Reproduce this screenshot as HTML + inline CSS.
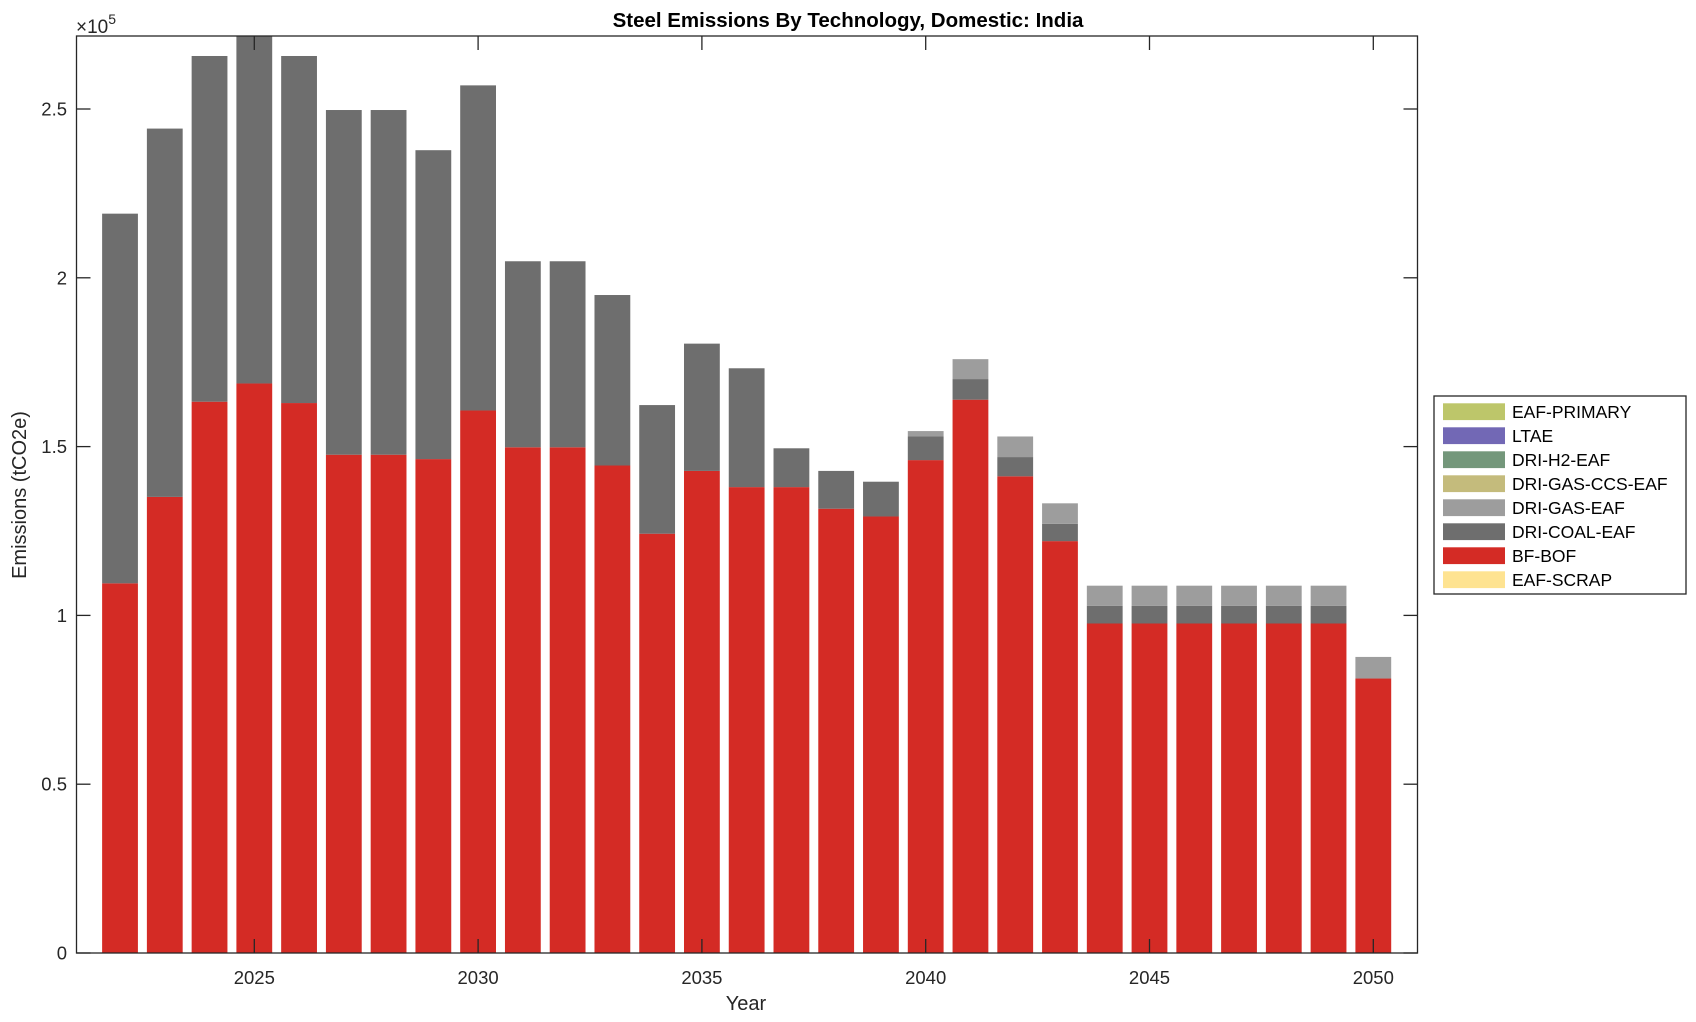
<!DOCTYPE html>
<html><head><meta charset="utf-8"><style>
html,body{margin:0;padding:0;background:#fff;width:1696px;height:1022px;overflow:hidden}
svg{display:block;font-family:"Liberation Sans",Arial,sans-serif}
</style></head><body>
<svg id="s" width="1696" height="1022" xmlns="http://www.w3.org/2000/svg">
<rect width="1696" height="1022" fill="#fff"/>
<g id="bars"></g>
<rect x="76.5" y="36" width="1341" height="917" fill="none" stroke="#262626" stroke-width="1.3"/>
<g id="ticks" stroke="#262626" stroke-width="1.3"></g>
<g id="labels" font-size="18.5" fill="#262626"></g>
<text x="848" y="27" text-anchor="middle" font-size="20.5" font-weight="bold" fill="#000">Steel Emissions By Technology, Domestic: India</text>
<text x="76" y="33" font-size="19" fill="#262626">×10<tspan dy="-9" font-size="14">5</tspan></text>
<text x="746" y="1010" text-anchor="middle" font-size="20" fill="#262626">Year</text>
<text transform="translate(26,495) rotate(-90)" text-anchor="middle" font-size="20" fill="#262626">Emissions (tCO2e)</text>
<rect x="1434" y="396" width="252" height="198" fill="#fff" stroke="#262626" stroke-width="1.3"/>
<g id="leg" font-size="17.5" fill="#000"></g>
</svg>
<script>
var NS="http://www.w3.org/2000/svg";
function el(p,t,a,txt){var e=document.createElementNS(NS,t);for(var k in a)e.setAttribute(k,a[k]);if(txt!=null)e.textContent=txt;p.appendChild(e);return e;}
var X=function(y){return 254.3+(y-2025)*44.76;};
var Y=function(v){return 953-v*337.6;};
var data=[
[2022,1.095,2.19,0],[2023,1.351,2.442,0],[2024,1.633,2.657,0],[2025,1.687,2.716,0],
[2026,1.629,2.657,0],[2027,1.476,2.497,0],[2028,1.476,2.497,0],[2029,1.463,2.378,0],
[2030,1.607,2.570,0],[2031,1.498,2.049,0],[2032,1.498,2.049,0],[2033,1.444,1.949,0],
[2034,1.242,1.623,0],[2035,1.428,1.805,0],[2036,1.380,1.732,0],[2037,1.380,1.495,0],
[2038,1.316,1.428,0],[2039,1.293,1.396,0],[2040,1.460,1.530,1.546],[2041,1.639,1.700,1.759],
[2042,1.412,1.469,1.530],[2043,1.220,1.271,1.332],[2044,0.976,1.028,1.088],[2045,0.976,1.028,1.088],
[2046,0.976,1.028,1.088],[2047,0.976,1.028,1.088],[2048,0.976,1.028,1.088],[2049,0.976,1.028,1.088],
[2050,0.813,0.813,0.877]];
var b=document.getElementById('bars');
data.forEach(function(d){
 var x=X(d[0])-17.9,w=35.8;
 el(b,'rect',{x:x,y:Y(d[1]),width:w,height:Y(0)-Y(d[1]),fill:'#d42b25'});
 if(d[2]>d[1])el(b,'rect',{x:x,y:Y(d[2]),width:w,height:Y(d[1])-Y(d[2]),fill:'#6e6e6e'});
 var top=Math.max(d[1],d[2]);
 if(d[3]>top)el(b,'rect',{x:x,y:Y(d[3]),width:w,height:Y(top)-Y(d[3]),fill:'#9d9d9d'});
});
var t=document.getElementById('ticks'),l=document.getElementById('labels');
[2025,2030,2035,2040,2045,2050].forEach(function(y){var x=X(y);
 el(t,'line',{x1:x,x2:x,y1:953,y2:939});el(t,'line',{x1:x,x2:x,y1:36,y2:50});
 el(l,'text',{x:x,y:984,'text-anchor':'middle'},String(y));});
[0,0.5,1,1.5,2,2.5].forEach(function(v){var y=Y(v);
 el(t,'line',{x1:76.5,x2:90.5,y1:y,y2:y});el(t,'line',{x1:1417.5,x2:1403.5,y1:y,y2:y});
 el(l,'text',{x:67,y:y+6.5,'text-anchor':'end'},String(v));});
var leg=[['EAF-PRIMARY','#bdc66a'],['LTAE','#7268b5'],['DRI-H2-EAF','#74977b'],['DRI-GAS-CCS-EAF','#c4bb7c'],
['DRI-GAS-EAF','#9d9d9d'],['DRI-COAL-EAF','#6e6e6e'],['BF-BOF','#d42b25'],['EAF-SCRAP','#fee391']];
var g=document.getElementById('leg');
leg.forEach(function(it,i){var cy=411.7+i*24;
 el(g,'rect',{x:1443,y:cy-8.4,width:62,height:16.8,fill:it[1]});
 el(g,'text',{x:1512,y:cy+6.2},it[0]);});
</script>
</body></html>
